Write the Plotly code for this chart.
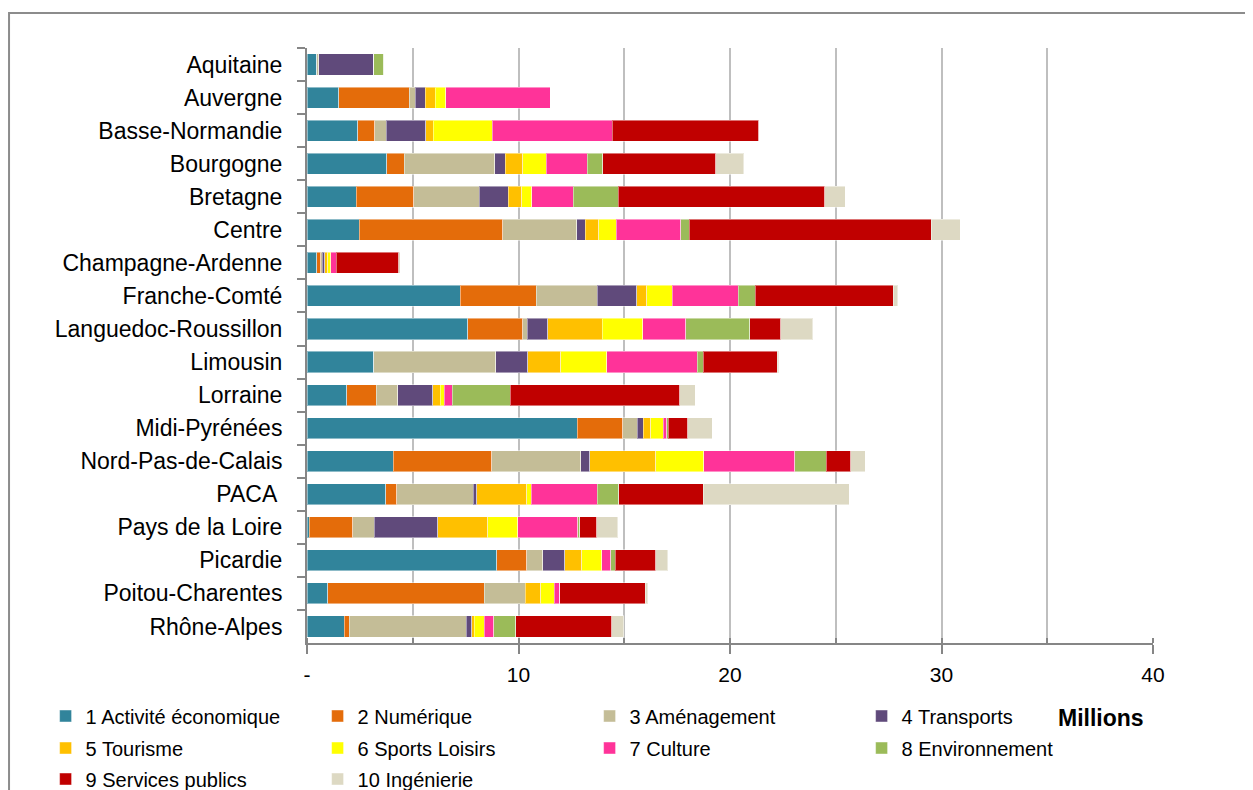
import plotly.graph_objects as go

regions = ["Aquitaine", "Auvergne", "Basse-Normandie", "Bourgogne", "Bretagne", "Centre",
           "Champagne-Ardenne", "Franche-Comté", "Languedoc-Roussillon", "Limousin", "Lorraine",
           "Midi-Pyrénées", "Nord-Pas-de-Calais", "PACA ", "Pays de la Loire", "Picardie",
           "Poitou-Charentes", "Rhône-Alpes"]

series_names = ["1 Activité économique", "2 Numérique", "3 Aménagement", "4 Transports",
                "5 Tourisme", "6 Sports Loisirs", "7 Culture", "8 Environnement",
                "9 Services publics", "10 Ingénierie"]

# values in millions, one list per series, in region order
activite = [0.46, 1.50, 2.40, 3.76, 2.32, 2.46, 0.46, 7.24, 7.60, 3.15, 1.89, 12.77, 4.07, 3.72, 0.10, 8.98, 0.99, 1.75]
numerique = [0.00, 3.34, 0.80, 0.83, 2.73, 6.79, 0.19, 3.61, 2.60, 0.00, 1.39, 2.16, 4.67, 0.52, 2.07, 1.40, 7.38, 0.24]
amenagement = [0.10, 0.27, 0.54, 4.29, 3.09, 3.50, 0.06, 2.88, 0.22, 5.77, 1.02, 0.69, 4.21, 3.61, 1.02, 0.77, 1.94, 5.55]
transports = [2.59, 0.49, 1.88, 0.49, 1.37, 0.41, 0.13, 1.86, 0.96, 1.51, 1.64, 0.28, 0.43, 0.17, 2.99, 1.04, 0.00, 0.25]
tourisme = [0.00, 0.47, 0.36, 0.82, 0.65, 0.63, 0.14, 0.47, 2.58, 1.56, 0.35, 0.35, 3.12, 2.36, 2.36, 0.79, 0.73, 0.11]
sports = [0.00, 0.50, 2.77, 1.12, 0.47, 0.84, 0.14, 1.21, 1.91, 2.19, 0.19, 0.60, 2.25, 0.22, 1.43, 0.96, 0.66, 0.47]
culture = [0.00, 4.92, 5.69, 1.94, 1.95, 3.04, 0.27, 3.13, 2.03, 4.27, 0.38, 0.16, 4.30, 3.13, 2.84, 0.41, 0.24, 0.47]
environnement = [0.49, 0.00, 0.00, 0.73, 2.14, 0.41, 0.00, 0.80, 3.03, 0.28, 2.74, 0.06, 1.49, 1.01, 0.09, 0.22, 0.00, 1.03]
services = [0.00, 0.00, 6.93, 5.34, 9.77, 11.44, 2.95, 6.51, 1.48, 3.51, 8.02, 0.93, 1.17, 4.00, 0.79, 1.91, 4.05, 4.54]
ingenierie = [0.00, 0.00, 0.00, 1.34, 0.95, 1.37, 0.08, 0.22, 1.51, 0.06, 0.74, 1.15, 0.69, 6.90, 1.01, 0.58, 0.13, 0.57]

series_values = [activite, numerique, amenagement, transports, tourisme, sports, culture,
                 environnement, services, ingenierie]

colors = ["#31849B", "#E46C0A", "#C4BD97", "#604A7B", "#FFC000", "#FFFF00", "#FF3399",
          "#9BBB59", "#C00000", "#DDD9C3"]

x_tickvals = [0, 10, 20, 30, 40]
x_ticktext = ["-", "10", "20", "30", "40"]

legend_ids = ["legend", "legend", "legend", "legend",
              "legend2", "legend2", "legend2", "legend2",
              "legend3", "legend3"]

fig = go.Figure()
for name, vals, col, lg in zip(series_names, series_values, colors, legend_ids):
    fig.add_trace(go.Bar(
        y=regions, x=vals, name=name, orientation="h",
        marker=dict(color=col, line=dict(color="rgba(255,255,255,0.45)", width=1)),
        legend=lg,
    ))

FONT = "Liberation Sans"
leg_common = dict(orientation="h", xanchor="left", yanchor="middle", x=-0.309,
                  entrywidth=227, entrywidthmode="pixels",
                  font=dict(family=FONT, size=20, color="#000000"),
                  bgcolor="rgba(0,0,0,0)", borderwidth=0, traceorder="normal")

fig.update_layout(
    width=1253, height=790,
    margin=dict(l=299, r=108, t=40, b=155, autoexpand=False),
    paper_bgcolor="white", plot_bgcolor="white",
    barmode="stack", bargap=0.36,
    font=dict(family=FONT, color="#000000"),
    legend=dict(leg_common, y=-0.1227),
    legend2=dict(leg_common, y=-0.1765),
    legend3=dict(leg_common, y=-0.2286),
    xaxis=dict(
        range=[0, 40], tickmode="array", tickvals=x_tickvals, ticktext=x_ticktext,
        ticks="outside", ticklen=9, tickwidth=2, tickcolor="#868686",
        tickfont=dict(family=FONT, size=21, color="#000000"),
        showline=True, linecolor="#868686", linewidth=2,
        showgrid=True, gridcolor="#BFBFBF", gridwidth=2,
        minor=dict(tickmode="linear", tick0=0, dtick=5, ticks="inside", ticklen=5,
                   tickcolor="#868686", tickwidth=2, showgrid=True,
                   gridcolor="#BFBFBF", gridwidth=2),
        zeroline=False, fixedrange=True, ticklabelstandoff=3, automargin=False,
    ),
    yaxis=dict(
        autorange="reversed", type="category",
        ticks="outside", ticklen=8, tickwidth=2, tickcolor="#868686", tickson="boundaries",
        showline=True, linecolor="#868686", linewidth=2,
        tickfont=dict(family=FONT, size=23, color="#000000"),
        showgrid=False, ticklabelstandoff=18, automargin=False,
    ),
    annotations=[dict(text="<b>Millions</b>", xref="paper", yref="paper",
                      x=0.9385, y=-0.126, xanchor="center", yanchor="middle",
                      showarrow=False, font=dict(family=FONT, size=23, color="#000000"))],
    shapes=[dict(type="rect", xref="paper", yref="paper",
                 x0=-0.3522, x1=1.25, y0=-0.3, y1=1.0588,
                 line=dict(color="#8C8C8C", width=2), fillcolor="rgba(0,0,0,0)", layer="below")],
)

fig.write_html("out.html")
